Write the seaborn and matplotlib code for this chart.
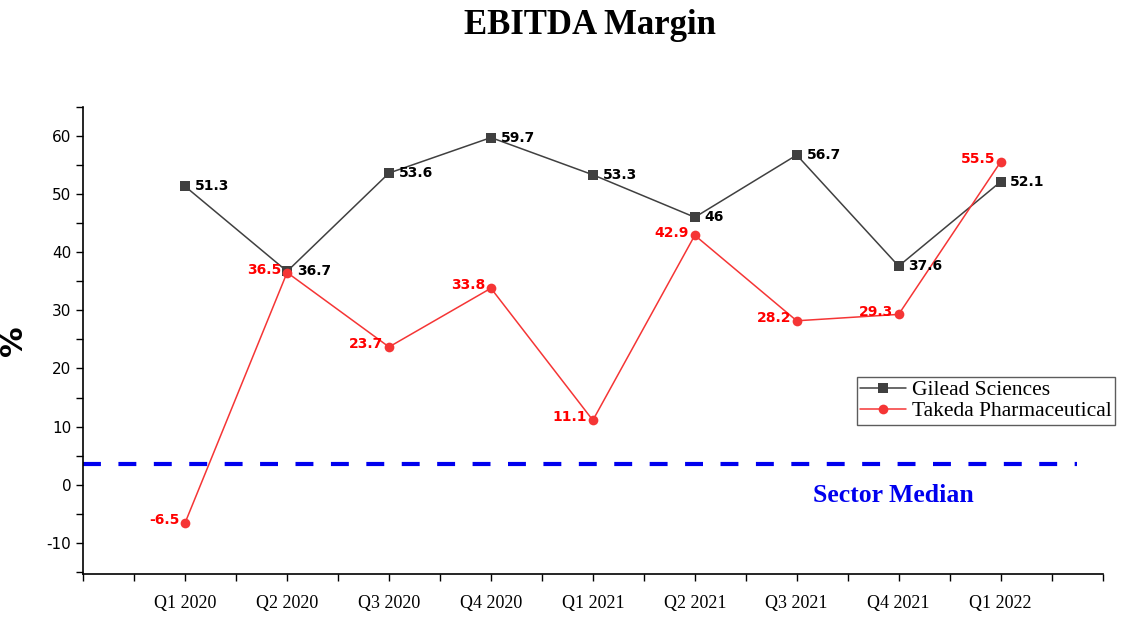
import numpy as np
import pandas as pd
import seaborn as sns
from matplotlib import pyplot as plt
from matplotlib.ticker import MultipleLocator

quarters = ['Q1 2020', 'Q2 2020', 'Q3 2020', 'Q4 2020', 'Q1 2021',
            'Q2 2021', 'Q3 2021', 'Q4 2021', 'Q1 2022']
gilead = [51.3, 36.7, 53.6, 59.7, 53.3, 46, 56.7, 37.6, 52.1]
takeda = [-6.5, 36.5, 23.7, 33.8, 11.1, 42.9, 28.2, 29.3, 55.5]
sector_median = 3.6

sns.set_style('white')
plt.rcParams['axes.unicode_minus'] = False
plt.rcParams['text.color'] = 'black'
plt.rcParams['xtick.color'] = 'black'
plt.rcParams['ytick.color'] = 'black'
plt.rcParams['axes.labelcolor'] = 'black'

df = pd.DataFrame({
    'pos': list(range(len(quarters))) * 2,
    'value': gilead + takeda,
    'company': ['Gilead Sciences'] * len(quarters) + ['Takeda Pharmaceutical'] * len(quarters),
})

fig = plt.figure(figsize=(11.25, 6.17), dpi=100)
ax = fig.add_axes([0.074, 0.07, 0.906, 0.757])

palette = {'Gilead Sciences': '#404040', 'Takeda Pharmaceutical': '#f53535'}
markers = {'Gilead Sciences': 's', 'Takeda Pharmaceutical': 'o'}
sns.lineplot(data=df, x='pos', y='value', hue='company', style='company',
             palette=palette, markers=markers, dashes=False, markersize=7,
             linewidth=1.1, markeredgewidth=0, ax=ax)

# data labels
for i, v in enumerate(gilead):
    ax.annotate(f'{v:g}', (i, v), xytext=(7, 0), textcoords='offset points',
                ha='left', va='center', fontsize=10, fontweight='bold',
                color='black', family='DejaVu Sans')
for i, v in enumerate(takeda):
    ax.annotate(f'{v:g}', (i, v), xytext=(-4, 2), textcoords='offset points',
                ha='right', va='center', fontsize=10, fontweight='bold',
                color='red', family='DejaVu Sans')

# sector median
ax.plot([-1, 8.75], [sector_median, sector_median], color='#0000ee',
        linestyle=(0, (4.3, 4.2)), linewidth=3)
ax.text(6.95, -1.9, 'Sector Median', color='#0000ee', fontsize=18.5,
        fontweight='bold', family='Liberation Serif', ha='center', va='center')

ax.set_xlim(-1, 9)
ax.set_ylim(-15.3, 65)
ax.set_xticks(range(len(quarters)))
ax.set_xticklabels(quarters, family='Liberation Serif', fontsize=13)
ax.xaxis.set_minor_locator(MultipleLocator(0.5))
ax.yaxis.set_major_locator(MultipleLocator(10))
ax.yaxis.set_minor_locator(MultipleLocator(5))
for lab in ax.get_yticklabels():
    lab.set_family('DejaVu Sans')
    lab.set_fontsize(11)
ax.tick_params(axis='both', which='both', direction='out', length=5, width=1,
               color='black', bottom=True, left=True)
ax.tick_params(axis='x', which='major', pad=10)
ax.set_xlabel('')
ax.set_ylabel('%', fontsize=22, fontweight='bold', family='DejaVu Sans')
ax.yaxis.set_label_coords(-0.054, 0.5)

sns.despine(ax=ax)
for s in ['left', 'bottom']:
    ax.spines[s].set_color('black')
    ax.spines[s].set_linewidth(1.2)

leg = ax.legend(loc='upper left', bbox_to_anchor=(0.762, 0.389), bbox_transform=fig.transFigure,
                prop={'family': 'Liberation Serif', 'size': 15.5}, frameon=True,
                fancybox=False, edgecolor='#333333', borderpad=0.15,
                handlelength=2.1, handletextpad=0.3, labelspacing=0.05,
                borderaxespad=0)
leg.get_frame().set_linewidth(1)

fig.text(0.524, 0.958, 'EBITDA Margin', ha='center', va='center', fontsize=25,
         fontweight='bold', family='Liberation Serif')

fig.savefig('out.png', dpi=100)
